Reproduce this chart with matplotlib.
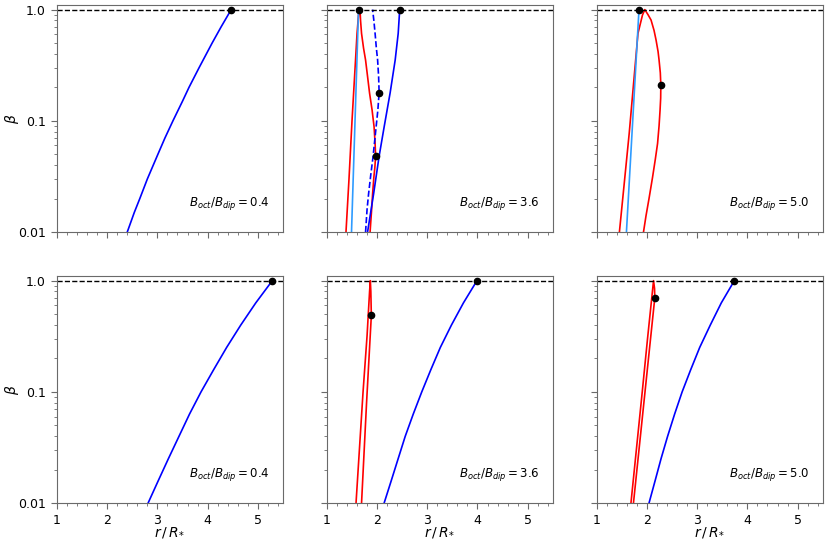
import matplotlib
matplotlib.use('Agg')
import matplotlib.pyplot as plt
from matplotlib.ticker import FixedLocator, FixedFormatter, MultipleLocator, LogLocator, NullFormatter

# field strength ratio shown in each column
ratios = ['0.4', '3.6', '5.0']

# top row
tl_blue_r = [2.40, 2.54, 2.65, 2.80, 3.01, 3.15, 3.31, 3.50, 3.63, 3.83, 4.09, 4.27, 4.47]
tl_blue_b = [0.01, 0.015, 0.02, 0.03, 0.05, 0.07, 0.1, 0.15, 0.2, 0.3, 0.5, 0.7, 1.0]
tl_dots_r = [4.47]
tl_dots_b = [1.0]

tm_red_r = [1.38, 1.44, 1.50, 1.57, 1.60, 1.63, 1.66, 1.67, 1.69, 1.73, 1.77, 1.81, 1.85,
            1.90, 1.94, 1.96, 1.97, 1.955, 1.935, 1.91, 1.89, 1.86]
tm_red_b = [0.01, 0.03, 0.1, 0.352, 0.61, 0.9, 1.0, 0.8, 0.61, 0.45, 0.352, 0.25, 0.177,
            0.125, 0.088, 0.0625, 0.048, 0.038, 0.031, 0.022, 0.0157, 0.01]
tm_cyan_r = [1.49, 1.56, 1.63]
tm_cyan_b = [0.01, 0.1, 1.0]
tm_dash_r = [1.77, 1.80, 1.83, 1.875, 1.92, 1.95, 1.98, 2.015, 2.04, 2.03, 2.01, 1.985, 1.96, 1.935, 1.91]
tm_dash_b = [0.01, 0.016, 0.022, 0.033, 0.048, 0.065, 0.088, 0.125, 0.179, 0.25, 0.352, 0.45, 0.61, 0.8, 1.0]
tm_blue_r = [1.81, 1.93, 2.04, 2.14, 2.26, 2.36, 2.42, 2.45]
tm_blue_b = [0.01, 0.022, 0.048, 0.088, 0.179, 0.352, 0.61, 1.0]
tm_dots_r = [1.63, 2.45, 2.04, 1.975]
tm_dots_b = [1.0, 1.0, 0.179, 0.048]

tr_red_r = [1.45, 1.645, 1.82, 1.91, 1.935, 1.956, 2.02, 2.08, 2.14, 2.18, 2.22, 2.24, 2.265,
            2.275, 2.272, 2.26, 2.24, 2.21, 2.165, 2.11, 2.04, 1.98, 1.93]
tr_red_b = [0.01, 0.077, 0.612, 0.895, 0.95, 1.0, 0.9, 0.807, 0.65, 0.533, 0.42, 0.352, 0.27,
            0.21, 0.16, 0.125, 0.09, 0.0625, 0.045, 0.031, 0.02, 0.014, 0.01]
tr_cyan_r = [1.59, 1.84]
tr_cyan_b = [0.01, 1.0]
tr_dots_r = [1.84, 2.275]
tr_dots_b = [1.0, 0.21]

# bottom row
beta_grid = [0.01, 0.0158, 0.0251, 0.0398, 0.0631, 0.1, 0.158, 0.251, 0.398, 0.631, 1.0]

bl_blue_r = [2.815, 3.015, 3.22, 3.43, 3.64, 3.87, 4.12, 4.38, 4.66, 4.96, 5.29]
bl_dots_r = [5.29]
bl_dots_b = [1.0]

bm_red_r = [1.58, 1.72, 1.80, 1.85, 1.865, 1.875, 1.885, 1.85, 1.79, 1.69]
bm_red_b = [0.01, 0.1, 0.32, 0.8, 1.0, 0.8, 0.486, 0.25, 0.08, 0.01]
bm_blue_r = [2.14, 2.28, 2.42, 2.56, 2.72, 2.89, 3.07, 3.26, 3.48, 3.72, 3.99]
bm_dots_r = [3.99, 1.885]
bm_dots_b = [1.0, 0.486]

br_red_r = [1.68, 1.905, 2.01, 2.13, 2.15, 2.155, 2.07, 1.96, 1.73]
br_red_b = [0.01, 0.1, 0.3, 1.0, 0.85, 0.70, 0.3, 0.1, 0.01]
br_blue_r = [2.04, 2.16, 2.28, 2.41, 2.55, 2.70, 2.87, 3.05, 3.26, 3.48, 3.74]
br_dots_r = [3.74, 2.155]
br_dots_b = [1.0, 0.70]

ytick_vals = [0.01, 0.1, 1.0]
ytick_labels = ['0.01', '0.1', '1.0']
xtick_vals = [1, 2, 3, 4, 5]

fig, axes = plt.subplots(2, 3, figsize=(8.31, 5.45), dpi=100)
fig.subplots_adjust(left=0.0686, right=0.990, bottom=0.077, top=0.9908,
                    wspace=0.195, hspace=0.194)

lw = 1.2
blue = '#0000ff'
cyan = '#2e9bff'
red = '#ff0000'

ax = axes[0, 0]
ax.plot(tl_blue_r, tl_blue_b, color=blue, lw=lw)
ax.plot(tl_dots_r, tl_dots_b, 'ko', ms=4.5)

ax = axes[0, 1]
ax.plot(tm_red_r, tm_red_b, color=red, lw=lw)
ax.plot(tm_cyan_r, tm_cyan_b, color=cyan, lw=lw)
ax.plot(tm_dash_r, tm_dash_b, color=blue, lw=lw, ls='--')
ax.plot(tm_blue_r, tm_blue_b, color=blue, lw=lw)
ax.plot(tm_dots_r, tm_dots_b, 'ko', ms=4.5)

ax = axes[0, 2]
ax.plot(tr_red_r, tr_red_b, color=red, lw=lw)
ax.plot(tr_cyan_r, tr_cyan_b, color=cyan, lw=lw)
ax.plot(tr_dots_r, tr_dots_b, 'ko', ms=4.5)

ax = axes[1, 0]
ax.plot(bl_blue_r, beta_grid, color=blue, lw=lw)
ax.plot(bl_dots_r, bl_dots_b, 'ko', ms=4.5)

ax = axes[1, 1]
ax.plot(bm_red_r, bm_red_b, color=red, lw=lw)
ax.plot(bm_blue_r, beta_grid, color=blue, lw=lw)
ax.plot(bm_dots_r, bm_dots_b, 'ko', ms=4.5)

ax = axes[1, 2]
ax.plot(br_red_r, br_red_b, color=red, lw=lw)
ax.plot(br_blue_r, beta_grid, color=blue, lw=lw)
ax.plot(br_dots_r, br_dots_b, 'ko', ms=4.5)

for i in range(2):
    for j in range(3):
        ax = axes[i, j]
        ax.axhline(1.0, color='k', ls='--', lw=1.0)
        ax.set_yscale('log')
        ax.set_xlim(1, 5.5)
        ax.set_ylim(0.01, 1.1)
        ax.yaxis.set_major_locator(FixedLocator(ytick_vals))
        ax.yaxis.set_minor_locator(LogLocator(base=10, subs=range(2, 10)))
        ax.yaxis.set_minor_formatter(NullFormatter())
        ax.xaxis.set_major_locator(FixedLocator(xtick_vals))
        ax.xaxis.set_minor_locator(MultipleLocator(0.2))
        for s in ax.spines.values():
            s.set_color('#6a6a6a')
        ax.tick_params(which='both', direction='out', colors='#6a6a6a',
                       labelcolor='k', labelsize=9)
        ax.tick_params(which='major', length=4.5)
        ax.tick_params(which='minor', length=2.5)
        if j == 0:
            ax.yaxis.set_major_formatter(FixedFormatter(ytick_labels))
            ax.set_ylabel(r'$\beta$', fontsize=10, labelpad=-2)
        else:
            ax.set_yticklabels([])
        if i == 1:
            ax.set_xticklabels([str(v) for v in xtick_vals])
            ax.set_xlabel(r'$r\,/\,R_{*}$', fontsize=10, labelpad=-1)
        else:
            ax.set_xticklabels([])
        ax.text(0.94, 0.125, r'$B_{oct}/B_{dip} = %s$' % ratios[j],
                transform=ax.transAxes, ha='right', va='center', fontsize=8.5)

fig.savefig('out.png', dpi=100)
